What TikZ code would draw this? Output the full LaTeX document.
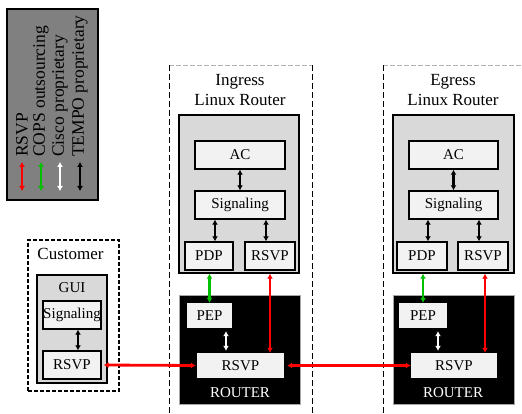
\documentclass[tikz,border=0pt]{standalone}
\usepackage{fontspec}
\setmainfont{Liberation Serif}
\usetikzlibrary{arrows.meta}
\definecolor{legendgray}{HTML}{808080}
\definecolor{hostgray}{HTML}{D9D9D9}
\definecolor{boxwhite}{HTML}{F2F2F2}
\definecolor{copsgreen}{HTML}{00C000}
\tikzset{
  blkbox/.style={draw=black, line width=1.4pt, fill=boxwhite, inner sep=0pt,
    font=\fontsize{15}{17}\selectfont},
  hostbox/.style={draw=black, line width=1.4pt, fill=hostgray, inner sep=0pt},
  routerbox/.style={draw=gray!70, line width=1pt, fill=black, inner sep=0pt},
  wbox/.style={draw=none, fill=boxwhite, inner sep=0pt, font=\fontsize{15}{17}\selectfont},
  title/.style={align=center, font=\fontsize{17}{20}\selectfont},
  legtext/.style={rotate=90, anchor=west, font=\fontsize{17.5}{20}\selectfont, inner sep=0pt},
  dblarr/.style={{Latex[length=5pt,width=6pt]}-{Latex[length=5pt,width=6pt]}, line width=2.8pt},
  blkarr/.style={dblarr, black},
  redarr/.style={dblarr, red},
  grnarr/.style={dblarr, copsgreen},
  whtarr/.style={dblarr, white},
}
\begin{document}
\begin{tikzpicture}[x=1pt, y=-1pt]
  \useasboundingbox (0,0) rectangle (522,414);
  % legend
  \node[draw=black, line width=1.6pt, fill=legendgray, minimum width=91pt,
        minimum height=191pt, inner sep=0pt] (legend) at (52.5,104.5) {};
  \def\legy{157}
  \node[legtext] (lRSVP) at (22,\legy) {RSVP};
  \node[legtext] (lCOPS) at (41,\legy) {COPS outsourcing};
  \node[legtext] (lCisco) at (60,\legy) {Cisco proprietary};
  \node[legtext] (lTempo) at (80,\legy) {TEMPO proprietary};
  \coordinate (aR1) at (22,162);  \coordinate (aR2) at (22,191);
  \coordinate (aC1) at (41,162);  \coordinate (aC2) at (41,191);
  \coordinate (aW1) at (60,162);  \coordinate (aW2) at (60,191);
  \coordinate (aT1) at (80,162);  \coordinate (aT2) at (80,191);
  \draw[redarr] (aR1) -- (aR2);
  \draw[grnarr] (aC1) -- (aC2);
  \draw[whtarr] (aW1) -- (aW2);
  \draw[blkarr] (aT1) -- (aT2);

  % ingress frame
  \coordinate (inTL) at (169,65);
  \coordinate (inTR) at (312,65);
  \coordinate (inBL) at (169,414);
  \coordinate (inBR) at (312,414);
  \draw[gray!60, dash pattern=on 5pt off 2pt] (inTL) -- (inTR);
  \draw[dash pattern=on 6pt off 3pt] (inTL) -- (inBL);
  \draw[dash pattern=on 6pt off 3pt] (inTR) -- (inBR);
  \node[title] (inTitle) at (240,90) {Ingress\\Linux Router};
  \node[hostbox, minimum width=120pt, minimum height=158pt] (inLR) at (239,194) {};
  \node[blkbox, minimum width=90pt, minimum height=28pt] (inAC) at (240,155) {AC};
  \node[blkbox, minimum width=90pt, minimum height=28pt] (inSig) at (240,205) {Signaling};
  \node[blkbox, minimum width=48pt, minimum height=28pt] (inPDP) at (209,256) {PDP};
  \node[blkbox, minimum width=50pt, minimum height=28pt] (inRSVP) at (270,256) {RSVP};
  \node[routerbox, minimum width=121pt, minimum height=109pt] (inRouter) at (239.5,349.5) {};
  \node[wbox, minimum width=45pt, minimum height=25pt] (inPEP) at (209.5,315.5) {PEP};
  \node[wbox, minimum width=87pt, minimum height=25pt] (inRR) at (240.5,365.5) {RSVP};
  \node[white, font=\fontsize{15}{17}\selectfont] (inRtxt) at (240,393) {ROUTER};
  \draw[blkarr] (inAC.south) -- (inSig.north);
  \draw[blkarr] ([xshift=6pt]inPDP.north) -- ([xshift=6pt]inPDP.north |- inSig.south);
  \draw[blkarr] ([xshift=-4pt]inRSVP.north) -- ([xshift=-4pt]inRSVP.north |- inSig.south);
  \draw[grnarr] (inPEP.north |- inLR.south) -- (inPEP.north);
  \draw[redarr] (inRSVP.south |- inLR.south) -- (inRSVP.south |- inRR.north);
  \draw[whtarr, shorten <=3pt, shorten >=2pt] ([xshift=16.5pt]inPEP.south) -- ([xshift=16.5pt]inPEP.south |- inRR.north);

  % egress frame
  \coordinate (egTL) at (383,65);
  \coordinate (egTR) at (522,65);
  \coordinate (egBL) at (383,414);
  \draw[gray!60, dash pattern=on 5pt off 2pt] (egTL) -- (egTR);
  \draw[dash pattern=on 6pt off 3pt] (egTL) -- (egBL);
  \node[title] (egTitle) at (453,90) {Egress\\Linux Router};
  \node[hostbox, minimum width=121pt, minimum height=158pt] (egLR) at (453.5,194) {};
  \node[blkbox, minimum width=89pt, minimum height=28pt] (egAC) at (453.5,155) {AC};
  \node[blkbox, minimum width=89pt, minimum height=28pt] (egSig) at (453.5,205) {Signaling};
  \node[blkbox, minimum width=50pt, minimum height=28pt] (egPDP) at (422,256) {PDP};
  \node[blkbox, minimum width=50pt, minimum height=28pt] (egRSVP) at (483,256) {RSVP};
  \node[routerbox, minimum width=121pt, minimum height=109pt] (egRouter) at (453.5,349.5) {};
  \node[wbox, minimum width=48pt, minimum height=25pt] (egPEP) at (423,315.5) {PEP};
  \node[wbox, minimum width=86pt, minimum height=25pt] (egRR) at (454,365.5) {RSVP};
  \node[white, font=\fontsize{15}{17}\selectfont] (egRtxt) at (453,393) {ROUTER};
  \draw[blkarr] (egAC.south) -- (egSig.north);
  \draw[blkarr] ([xshift=6pt]egPDP.north) -- ([xshift=6pt]egPDP.north |- egSig.south);
  \draw[blkarr] ([xshift=-4pt]egRSVP.north) -- ([xshift=-4pt]egRSVP.north |- egSig.south);
  \draw[grnarr] (egPEP.north |- egLR.south) -- (egPEP.north);
  \draw[redarr] ([xshift=2pt]egRSVP.south |- egLR.south) -- ([xshift=2pt]egRSVP.south |- egRR.north);
  \draw[whtarr, shorten <=3pt, shorten >=2pt] ([xshift=15pt]egPEP.south) -- ([xshift=15pt]egPEP.south |- egRR.north);

  % customer
  \node[draw=black, line width=1.5pt, dash pattern=on 4pt off 2pt, minimum width=91pt,
        minimum height=151pt, inner sep=0pt] (cuFrame) at (73.5,315.5) {};
  \node[title] (cuTitle) at (70.5,254) {Customer};
  \node[hostbox, minimum width=70pt, minimum height=108pt] (cuGUI) at (72,329) {};
  \node[font=\fontsize{15}{17}\selectfont] (cuGUItxt) at (72,288) {GUI};
  \node[blkbox, minimum width=58pt, minimum height=28pt] (cuSig) at (72,315) {Signaling};
  \node[blkbox, minimum width=58pt, minimum height=28pt] (cuRSVP) at (72,365) {RSVP};
  \draw[blkarr] ([xshift=6pt]cuRSVP.north) -- ([xshift=6pt]cuSig.south);

  % rsvp path
  \draw[redarr, shorten <=2pt, shorten >=1pt] (cuRSVP.east) -- (inRR.west);
  \draw[redarr, shorten <=3pt] (inRR.east) -- (egRR.west);
\end{tikzpicture}
\end{document}
